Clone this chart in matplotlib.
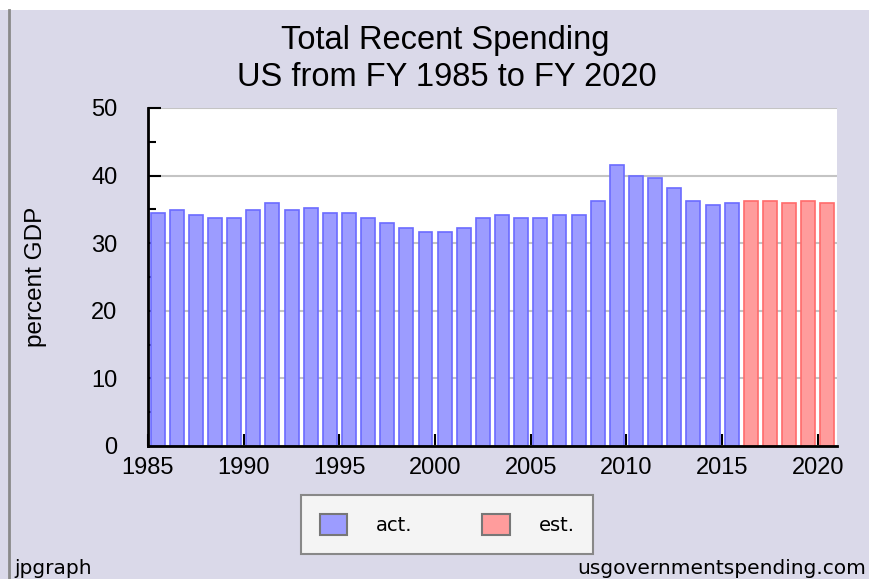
import matplotlib
matplotlib.use('Agg')
import matplotlib.pyplot as plt
from matplotlib.patches import Patch, Rectangle
from matplotlib.lines import Line2D

plt.rcParams['font.family'] = ['Liberation Sans', 'DejaVu Sans']

years = list(range(1985, 2021))
spending = [34.5, 34.9, 34.1, 33.7, 33.7, 34.9, 36.0, 34.9, 35.2, 34.5,
            34.5, 33.7, 33.0, 32.3, 31.6, 31.6, 32.3, 33.7, 34.1, 33.7,
            33.7, 34.1, 34.1, 36.3, 41.5, 40.0, 39.7, 38.2, 36.3, 35.6,
            36.0, 36.3, 36.3, 36.0, 36.3, 36.0]
first_estimate = 2016
tick_years = [1985, 1990, 1995, 2000, 2005, 2010, 2015, 2020]

bg = '#dad9e9'
act_face, act_edge = '#9c9cff', '#6b6bff'
est_face, est_edge = '#ff9c9c', '#ff6b6b'

fig = plt.figure(figsize=(8.7, 5.79), dpi=100, facecolor=bg)
# white strip on top and grey frame line on the left, like the jpgraph image
fig.patches.append(Rectangle((0, 1 - 10 / 579), 1, 10 / 579, transform=fig.transFigure,
                             facecolor='white', edgecolor='none', zorder=0))
fig.lines.append(Line2D([9 / 870, 9 / 870], [0, 1 - 10 / 579], transform=fig.transFigure,
                        color='#8a8a8a', lw=2))

ax = fig.add_axes([148 / 870, 1 - 446 / 579, (837 - 148) / 870, (446 - 108) / 579])
ax.set_facecolor('white')

xpos = [i + 0.5 for i in range(len(years))]
faces = [est_face if y >= first_estimate else act_face for y in years]
edges = [est_edge if y >= first_estimate else act_edge for y in years]
ax.bar(xpos, spending, width=0.73, color=faces, edgecolor=edges, linewidth=1.2, zorder=3)

ax.set_xlim(0, len(years))
ax.set_ylim(0, 50)
ax.set_yticks(range(0, 51, 10))
ax.set_yticks(range(5, 50, 10), minor=True)
ax.set_xticks([years.index(y) for y in tick_years])
ax.set_xticklabels([str(y) for y in tick_years])
ax.yaxis.grid(True, color='#c4c4c4', linewidth=1.5, zorder=0)
ax.set_axisbelow(True)

for s in ['top', 'right']:
    ax.spines[s].set_visible(False)
for s in ['left', 'bottom']:
    ax.spines[s].set_linewidth(2)
    ax.spines[s].set_zorder(5)

ax.tick_params(axis='y', which='major', direction='in', length=9.5, width=1.5, pad=22,
               labelsize=17)
ax.tick_params(axis='y', which='minor', direction='in', length=6, width=1.5)
ax.tick_params(axis='x', direction='in', length=9, width=1.5, pad=8, labelsize=17)

ax.set_ylabel('percent GDP', fontsize=17.5, labelpad=32)

fig.text(0.512, 1 - 40 / 579, 'Total Recent Spending', ha='center', va='center', fontsize=23.5)
fig.text(0.514, 1 - 77 / 579, 'US from FY 1985 to FY 2020', ha='center', va='center',
         fontsize=23.5)

handles = [Patch(facecolor=act_face, edgecolor='#777777', linewidth=1.5, label='act.'),
           Patch(facecolor=est_face, edgecolor='#777777', linewidth=1.5, label='est.')]
leg = fig.legend(handles=handles, ncol=2, loc='center', bbox_to_anchor=(0.514, 0.094),
                 prop={'family': 'DejaVu Sans', 'size': 14}, frameon=True, fancybox=False,
                 handlelength=1.4, handleheight=1.35, handletextpad=1.5, columnspacing=3.6,
                 borderpad=0.95)
leg.get_frame().set_facecolor('#f4f4f4')
leg.get_frame().set_edgecolor('#888888')
leg.get_frame().set_linewidth(1.5)
leg.get_frame().set_alpha(1)

fig.text(14 / 870, 1 - 569 / 579, 'jpgraph', ha='left', va='center', fontsize=14.5,
         family='DejaVu Sans')
fig.text(866 / 870, 1 - 569 / 579, 'usgovernmentspending.com', ha='right', va='center',
         fontsize=14.5, family='DejaVu Sans')

fig.savefig('out.png', dpi=100, facecolor=bg)
